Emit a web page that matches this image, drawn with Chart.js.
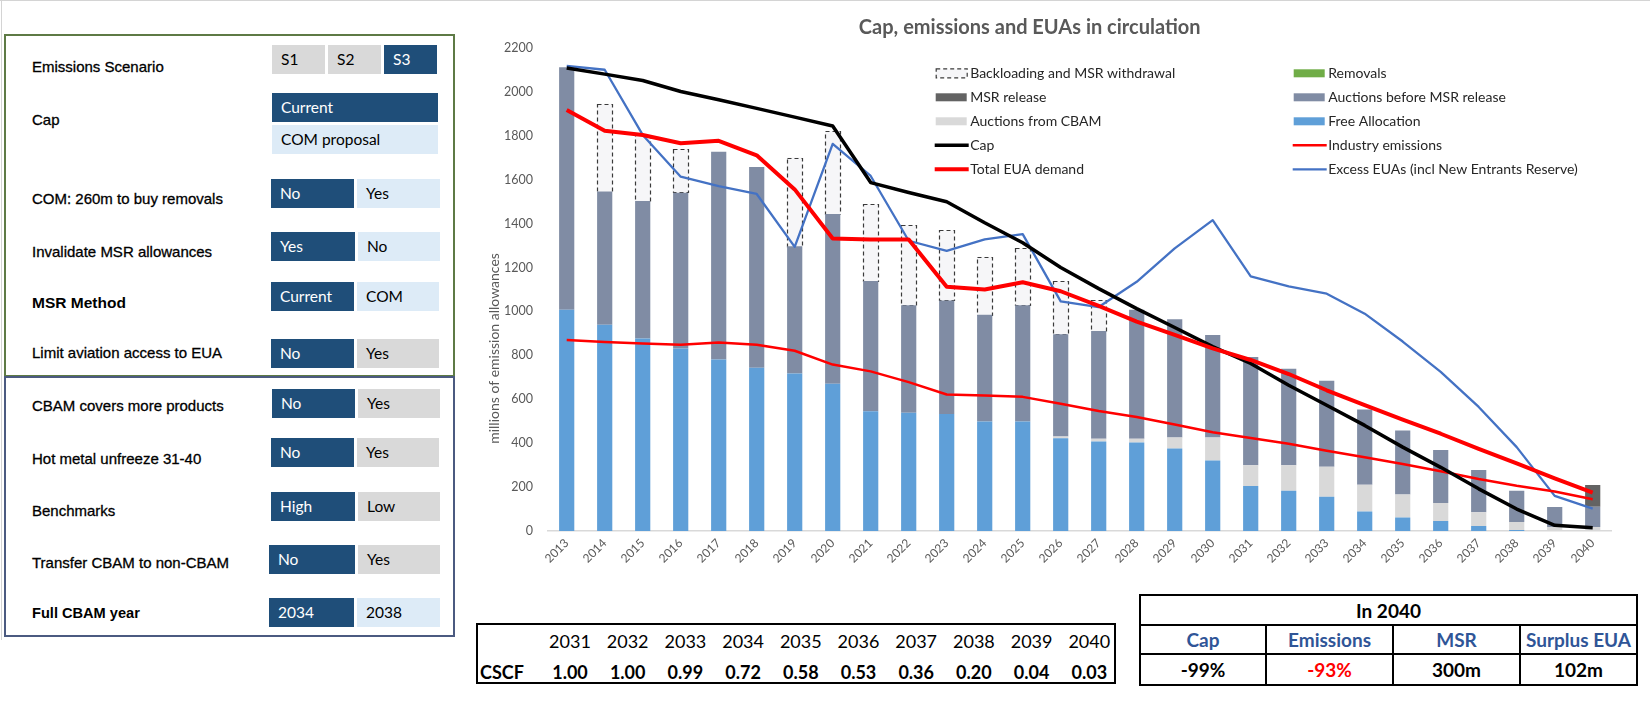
<!DOCTYPE html>
<html>
<head>
<meta charset="utf-8">
<title>Cap, emissions and EUAs in circulation</title>
<script src="https://cdn.jsdelivr.net/npm/chart.js@4.4.0/dist/chart.umd.min.js"></script>
<style>
  body { margin: 0; width: 1650px; height: 703px; overflow: hidden; background: #fff; position: relative; font-family: "Liberation Sans", Arial, sans-serif; }
  .edge-top { position: absolute; left: 0; top: 0; width: 1650px; height: 1px; background: #d4d4d4; }
  .edge-left { position: absolute; left: 1px; top: 0; width: 1px; height: 640px; background: #d4d4d4; }
  .box { position: absolute; box-sizing: border-box; left: 4px; width: 451px; }
  #box1 { top: 34px; height: 343px; border: 2px solid #5e7a45; }
  #box2 { top: 376px; height: 261px; border: 2px solid #4b5a80; }
  .lbl { position: absolute; left: 32px; height: 20px; line-height: 20px; font-size: 15px; color: #000; -webkit-text-stroke: 0.3px #000; white-space: nowrap; }
  .lbl.b { font-weight: bold; -webkit-text-stroke: 0; }
  .btn { position: absolute; height: 29px; line-height: 29px; box-sizing: border-box; padding-left: 9px; font-family: Lato, sans-serif; font-size: 15.5px; white-space: nowrap; }
  .on { background: #1f4e79; color: #fff; }
  .grey { background: #d9d9d9; color: #000; }
  .pale { background: #ddebf7; color: #000; }
  #chartBox { position: absolute; left: 418px; top: 0; width: 1232px; height: 590px; }
  #cscf { position: absolute; left: 476px; top: 623px; width: 640px; height: 61px; box-sizing: border-box; border: 2px solid #000; font-family: Lato, sans-serif; font-size: 18px; color: #000; }
  #cscf span { position: absolute; height: 22px; line-height: 22px; width: 56px; text-align: center; }
  #cscf .v { font-weight: bold; }
  #in2040 { position: absolute; left: 1139px; top: 594px; width: 499px; border-collapse: collapse; font-family: Lato, sans-serif; font-size: 19px; font-weight: bold; text-align: center; }
  #in2040 td { border: 2px solid #000; padding: 0; }
  #in2040 .hd td { color: #2f5597; }
</style>
</head>
<body>
<div class="edge-top"></div>
<div class="edge-left"></div>

<div class="box" id="box1"></div>
<div class="box" id="box2"></div>

<div class="lbl" style="top:57px">Emissions Scenario</div>
<div class="btn grey" style="left:272px;top:45px;width:53px">S1</div>
<div class="btn grey" style="left:328px;top:45px;width:53px">S2</div>
<div class="btn on" style="left:384px;top:45px;width:53px">S3</div>

<div class="lbl" style="top:110px">Cap</div>
<div class="btn on" style="left:272px;top:93px;width:166px">Current</div>
<div class="btn pale" style="left:272px;top:125px;width:166px">COM proposal</div>

<div class="lbl" style="top:189px">COM: 260m to buy removals</div>
<div class="btn on" style="left:271px;top:179px;width:83px">No</div>
<div class="btn pale" style="left:357px;top:179px;width:83px">Yes</div>

<div class="lbl" style="top:242px">Invalidate MSR allowances</div>
<div class="btn on" style="left:271px;top:232px;width:84px">Yes</div>
<div class="btn pale" style="left:358px;top:232px;width:82px">No</div>

<div class="lbl b" style="top:293px;font-size:15.5px">MSR Method</div>
<div class="btn on" style="left:271px;top:282px;width:83px">Current</div>
<div class="btn pale" style="left:357px;top:282px;width:82px">COM</div>

<div class="lbl" style="top:343px">Limit aviation access to EUA</div>
<div class="btn on" style="left:271px;top:339px;width:83px">No</div>
<div class="btn grey" style="left:357px;top:339px;width:82px">Yes</div>

<div class="lbl" style="top:396px">CBAM covers more products</div>
<div class="btn on" style="left:272px;top:389px;width:83px">No</div>
<div class="btn grey" style="left:358px;top:389px;width:82px">Yes</div>

<div class="lbl" style="top:449px">Hot metal unfreeze 31-40</div>
<div class="btn on" style="left:271px;top:438px;width:83px">No</div>
<div class="btn grey" style="left:357px;top:438px;width:82px">Yes</div>

<div class="lbl" style="top:501px">Benchmarks</div>
<div class="btn on" style="left:271px;top:492px;width:84px">High</div>
<div class="btn grey" style="left:358px;top:492px;width:82px">Low</div>

<div class="lbl" style="top:553px">Transfer CBAM to non-CBAM</div>
<div class="btn on" style="left:269px;top:545px;width:86px">No</div>
<div class="btn grey" style="left:358px;top:545px;width:82px">Yes</div>

<div class="lbl b" style="top:603px;font-size:14.6px">Full CBAM year</div>
<div class="btn on" style="left:269px;top:598px;width:85px">2034</div>
<div class="btn pale" style="left:357px;top:598px;width:83px">2038</div>

<div id="chartBox"><canvas id="myChart"></canvas></div>

<div id="cscf"></div>

<table id="in2040">
  <tr style="height:30px"><td colspan="4">In 2040</td></tr>
  <tr class="hd" style="height:29px"><td style="width:124px">Cap</td><td style="width:125px">Emissions</td><td style="width:125px">MSR</td><td>Surplus EUA</td></tr>
  <tr style="height:31px"><td>-99%</td><td style="color:#ff0000">-93%</td><td>300m</td><td>102m</td></tr>
</table>

<script>
// chart data (millions of allowances)
var years = ['2013','2014','2015','2016','2017','2018','2019','2020','2021','2022','2023','2024','2025','2026',
             '2027','2028','2029','2030','2031','2032','2033','2034','2035','2036','2037','2038','2039','2040'];

var freeAllocation    = [1008, 939, 877, 831, 781, 744, 717, 671, 545, 539, 533, 499, 499, 423, 408, 403, 376, 321, 205, 183, 156, 89, 61, 46, 23, 4, 0, 0];
var auctionsCBAM      = [0, 0, 0, 0, 0, 0, 0, 0, 0, 0, 0, 0, 0, 7, 12, 17, 50, 105, 94, 116, 137, 122, 105, 82, 62, 37, 18, 18];
var auctionsBeforeMSR = [1104, 607, 626, 710, 947, 914, 580, 773, 594, 489, 517, 486, 529, 466, 491, 588, 539, 467, 493, 440, 391, 342, 292, 241, 193, 142, 91, 92];
var msrRelease        = [0, 0, 0, 0, 0, 0, 0, 0, 0, 0, 0, 0, 0, 0, 0, 0, 0, 0, 0, 0, 0, 0, 0, 0, 0, 0, 0, 100];
var removals          = [0, 0, 0, 0, 0, 0, 0, 0, 0, 0, 0, 0, 0, 0, 0, 0, 0, 0, 0, 0, 0, 0, 0, 0, 0, 0, 0, 0];
var backloading       = [0, 400, 302, 198, 0, 0, 404, 377, 349, 365, 320, 264, 259, 241, 139, 0, 0, 0, 0, 0, 0, 0, 0, 0, 0, 0, 0, 0];

var cap               = [2109, 2081, 2052, 2002, 1964, 1925, 1885, 1845, 1587, 1542, 1500, 1404, 1313, 1200, 1104, 1013, 927, 840, 763, 664, 573, 481, 382, 290, 192, 100, 26, 15];
var totalDemand       = [1918, 1823, 1804, 1766, 1777, 1711, 1556, 1332, 1328, 1328, 1112, 1100, 1133, 1092, 1025, 954, 893, 832, 779, 715, 641, 573, 507, 443, 374, 308, 240, 175];
var industryEmissions = [870, 861, 854, 848, 859, 848, 821, 758, 727, 678, 622, 617, 611, 580, 547, 519, 485, 450, 424, 397, 366, 336, 305, 272, 237, 206, 180, 145];
var excessEUAs        = [2119, 2101, 1804, 1614, 1571, 1535, 1294, 1763, 1617, 1322, 1276, 1328, 1352, 1046, 1020, 1135, 1287, 1416, 1160, 1114, 1081, 990, 863, 725, 565, 382, 160, 102];

var cscfYears  = ['2031','2032','2033','2034','2035','2036','2037','2038','2039','2040'];
var cscfValues = ['1.00','1.00','0.99','0.72','0.58','0.53','0.36','0.20','0.04','0.03'];

// CSCF table
var cscf = document.getElementById('cscf');
var h = '<span class="v" style="left:2px;top:36px;width:auto;text-align:left">CSCF</span>';
for (i = 0; i < cscfYears.length; i++) {
    var cx = 94 + i * 57.7 - 28 - 2;
    h += '<span style="left:' + cx + 'px;top:5px">' + cscfYears[i] + '</span>';
    h += '<span class="v" style="left:' + cx + 'px;top:36px">' + cscfValues[i] + '</span>';
}
cscf.innerHTML = h;

// legend drawn Excel-style in two columns, plus the offset y axis title
var excelLegend = {
    id: 'excelLegend',
    afterDatasetDraw: function(chart, args) {
        var ds = chart.data.datasets[args.index];
        if (!ds.dashedOutline) return;
        var c = chart.ctx;
        c.save();
        c.setLineDash([4, 3]);
        c.lineWidth = 1.2;
        c.strokeStyle = '#3a3a3a';
        args.meta.data.forEach(function(el, i) {
            if (!ds.data[i]) return;
            var p = el.getProps(['x', 'y', 'base', 'width'], true);
            c.strokeRect(Math.round(p.x - p.width / 2) + 0.5, Math.round(p.y) + 0.5, Math.round(p.width), Math.round(p.base - p.y));
        });
        c.restore();
    },
    afterDraw: function(chart, args, opts) {
        var c = chart.ctx, a = chart.chartArea;
        c.save();
        c.font = '14px Lato';
        c.textBaseline = 'middle';
        c.textAlign = 'left';
        opts.columns.forEach(function(col, ci) {
            col.forEach(function(label, r) {
                var ds = chart.data.datasets.find(function(d) { return d.label === label; });
                var x = a.left + opts.colX[ci], y = a.top + opts.rowY + r * opts.rowGap;
                if (ds.type === 'line') {
                    c.strokeStyle = ds.borderColor;
                    c.lineWidth = ds.borderWidth;
                    c.setLineDash([]);
                    c.beginPath(); c.moveTo(x - 1, y); c.lineTo(x + 33, y); c.stroke();
                } else {
                    c.fillStyle = ds.backgroundColor;
                    c.fillRect(x, y - 4, 31, 8);
                    if (ds.dashedOutline) {
                        c.setLineDash([4, 3]);
                        c.lineWidth = 1.2;
                        c.strokeStyle = '#3a3a3a';
                        c.strokeRect(x + 0.5, y - 4.5, 31, 9);
                        c.setLineDash([]);
                    }
                }
                c.fillStyle = '#262626';
                c.fillText(label, x + 34.5, y);
            });
        });
        c.translate(a.left + opts.yTitleX, a.bottom + opts.yTitleY);
        c.rotate(-Math.PI / 2);
        c.textAlign = 'center';
        c.fillStyle = '#595959';
        c.font = '14px Lato';
        c.fillText(opts.yTitle, 0, 0);
        c.restore();
    }
};

Chart.defaults.font.family = 'Lato';

var ctx = document.getElementById('myChart');
var myChart = new Chart(ctx, {
    type: 'bar',
    data: {
        labels: years,
        datasets: [
            { type: 'line', label: 'Total EUA demand', data: totalDemand, borderColor: '#ff0000', borderWidth: 4, pointRadius: 0, stack: 'demand', order: 1, borderJoinStyle: 'round' },
            { type: 'line', label: 'Cap', data: cap, borderColor: '#000000', borderWidth: 3.5, pointRadius: 0, stack: 'cap', order: 2, borderJoinStyle: 'round' },
            { type: 'line', label: 'Industry emissions', data: industryEmissions, borderColor: '#ff0000', borderWidth: 2.5, pointRadius: 0, stack: 'industry', order: 3, borderJoinStyle: 'round' },
            { type: 'line', label: 'Excess EUAs (incl New Entrants Reserve)', data: excessEUAs, borderColor: '#4472c4', borderWidth: 2.3, pointRadius: 0, stack: 'excess', order: 4, borderJoinStyle: 'round' },
            { label: 'Free Allocation', data: freeAllocation, backgroundColor: '#5f9fd8', stack: 'bars', order: 10 },
            { label: 'Auctions from CBAM', data: auctionsCBAM, backgroundColor: '#d9d9d9', stack: 'bars', order: 10 },
            { label: 'Auctions before MSR release', data: auctionsBeforeMSR, backgroundColor: '#808ca4', stack: 'bars', order: 10 },
            { label: 'MSR release', data: msrRelease, backgroundColor: '#636363', stack: 'bars', order: 10 },
            { label: 'Removals', data: removals, backgroundColor: '#70ad47', stack: 'bars', order: 10 },
            { label: 'Backloading and MSR withdrawal', data: backloading, backgroundColor: '#f6f6f8', stack: 'bars', order: 10, dashedOutline: true }
        ]
    },
    options: {
        responsive: true,
        maintainAspectRatio: false,
        animation: false,
        datasets: { bar: { barPercentage: 0.4, categoryPercentage: 1.0 } },
        layout: { padding: { top: 0, left: 29.7, right: 38.3, bottom: 0 } },
        scales: {
            x: {
                stacked: true,
                grid: { display: false, drawTicks: false },
                border: { display: true, color: '#d9d9d9', width: 1.5 },
                ticks: { color: '#595959', font: { size: 12 }, minRotation: 45, maxRotation: 45, padding: 5, autoSkip: false },
                afterFit: function(s) { s.height = 59; }
            },
            y: {
                stacked: true,
                min: 0,
                max: 2200,
                grid: { display: false, drawTicks: false },
                border: { display: false },
                ticks: { stepSize: 200, color: '#595959', font: { size: 12.5 }, padding: 14.7, callback: function(v) { return String(v); } },
                afterFit: function(s) { s.width = 100; }
            }
        },
        plugins: {
            legend: { display: false },
            tooltip: { enabled: false },
            title: {
                display: true,
                text: 'Cap, emissions and EUAs in circulation',
                color: '#595959',
                font: { size: 20, weight: 'bold' },
                padding: { top: 16, bottom: 8 }
            },
            excelLegend: {
                columns: [
                    ['Backloading and MSR withdrawal', 'MSR release', 'Auctions from CBAM', 'Cap', 'Total EUA demand'],
                    ['Removals', 'Auctions before MSR release', 'Free Allocation', 'Industry emissions', 'Excess EUAs (incl New Entrants Reserve)']
                ],
                colX: [388, 746],
                rowY: 25.3,
                rowGap: 24,
                yTitle: 'millions of emission allowances',
                yTitleX: -53.7,
                yTitleY: -182.5
            }
        }
    },
    plugins: [excelLegend]
});
</script>
</body>
</html>
